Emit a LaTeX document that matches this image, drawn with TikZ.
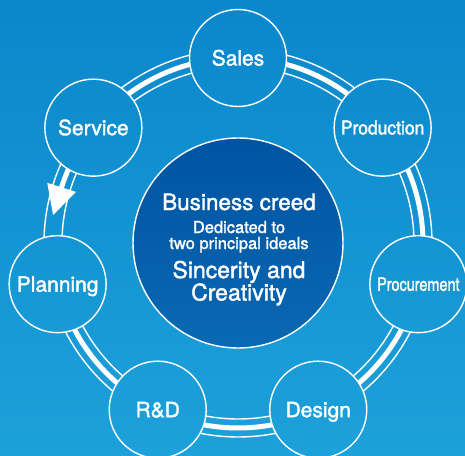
\documentclass[tikz,border=0pt]{standalone}
\usepackage{fontspec}
\setmainfont{TeX Gyre Heros}[FakeBold=1.6]
\definecolor{bgtop}{HTML}{0A87CB}
\definecolor{bgbot}{HTML}{1DA1DA}
\definecolor{coretop}{HTML}{0054A2}
\definecolor{corebot}{HTML}{0A68B2}
\newcommand{\ringR}{185}
\newcommand{\stageR}{48.5}
\begin{document}
\begin{tikzpicture}[x=1pt,y=1pt,
  stage/.style={circle, draw=white, line width=1.4pt, minimum size=97pt,
    inner sep=0pt, text=white, text depth=0pt},
  big/.style={font=\fontsize{21}{25}\selectfont, text height=15pt},
  railthin/.style={white, line width=1.4pt},
  railthick/.style={white, line width=5pt},
  creedtxt/.style={text=white, anchor=base, inner sep=0pt}]
  % background
  \shade[top color=bgtop, bottom color=bgbot] (-238,-212) rectangle (227,243);
  \useasboundingbox (-238,-212) rectangle (227,243);

  % rail between neighbouring stages (three concentric tracks)
  \foreach \k in {0,...,6}{
    \pgfmathsetmacro\a{90+\k*360/7}
    \pgfmathsetmacro\b{\a+360/7}
    \foreach \rr/\sty in {176/railthin,194/railthin}{
      \pgfmathsetmacro\al{acos(((\rr/100)^2+1.85^2-0.485^2)/(2*\rr/100*1.85))}
      \draw[\sty] (\a+\al:\rr) arc[start angle=\a+\al, end angle=\b-\al, radius=\rr];
    }
    \pgfmathsetmacro\al{acos((1.85^2+1.85^2-0.485^2)/(2*1.85*1.85))}
    \ifnum\k=1
      \draw[railthick] (\a+\al:\ringR) arc[start angle=\a+\al, end angle=163, radius=\ringR];
    \else
      \draw[railthick] (\a+\al:\ringR) arc[start angle=\a+\al, end angle=\b-\al, radius=\ringR];
    \fi
  }
  % direction arrow from Service towards Planning
  \coordinate (tipL) at (162.5:200);
  \coordinate (tipR) at (162.5:170);
  \coordinate (tip) at (171.4:187);
  \fill[white] (tipL) -- (tip) -- (tipR) -- cycle;

  % stages
  \node[stage, big] (sales)   at (90:\ringR) {Sales};
  \node[stage, big] (service) at (90+360/7:\ringR) {Service};
  \node[stage, big] (plan)    at (90+2*360/7:\ringR) {Planning};
  \node[stage, big] (rnd)     at (90+3*360/7:\ringR) {R\&D};
  \node[stage, big] (design)  at (90+4*360/7:\ringR) {Design};
  \node[stage, font=\fontsize{18.5}{22}\selectfont, text height=13.3pt]
        (procure) at (90+5*360/7:\ringR) {\scalebox{0.78}[1]{Procurement}};
  \node[stage, font=\fontsize{19}{23}\selectfont, text height=13.6pt]
        (produce) at (90+6*360/7:\ringR) {\scalebox{0.92}[1]{Production}};

  % business creed
  \shade[top color=coretop, bottom color=corebot, draw=white, line width=1.4pt]
    (0,0) circle (105);
  \coordinate (core) at (0,0);
  \node[creedtxt, font=\fontsize{22.5}{26}\selectfont] (creed) at (1,33) {Business creed};
  \node[creedtxt, font=\fontsize{16.5}{19}\selectfont] (ded1) at (1,10) {Dedicated to};
  \node[creedtxt, font=\fontsize{16.5}{19}\selectfont] (ded2) at (1,-6) {two principal ideals};
  \node[creedtxt, font=\fontsize{23}{27}\selectfont] (ideal1) at (1,-35) {Sincerity and};
  \node[creedtxt, font=\fontsize{23}{27}\selectfont] (ideal2) at (1,-57.5) {Creativity};
\end{tikzpicture}
\end{document}
